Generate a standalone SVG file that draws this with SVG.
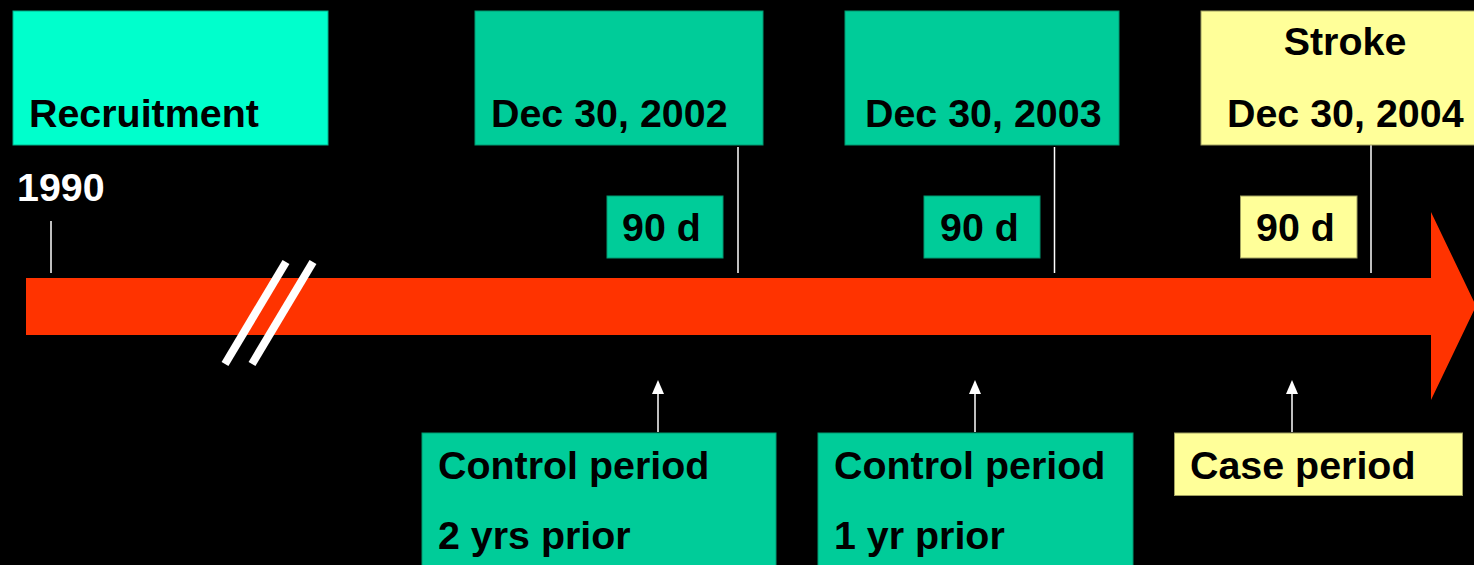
<svg xmlns="http://www.w3.org/2000/svg" width="1474" height="565" viewBox="0 0 1474 565">
<style>
text{font-family:"Liberation Sans",Arial,sans-serif;font-weight:bold;font-size:39.4px;fill:#000}
.w{fill:#fff}
.cyan{fill:#00FFCC;stroke:#00B08A;stroke-width:1}
.green{fill:#00CC99;stroke:#009970;stroke-width:1}
.yellow{fill:#FFFF99;stroke:#A0A060;stroke-width:1}
.tick{stroke:#fff;stroke-width:1.5;fill:none}
</style>
<defs>
<marker id="ah" markerWidth="14" markerHeight="12" refX="1" refY="6" orient="auto" markerUnits="userSpaceOnUse" viewBox="0 0 14 12">
<path d="M0,0 L14,6 L0,12 Z" fill="#fff"/>
</marker>
</defs>
<rect width="1474" height="565" fill="#000"/>

<g id="timeline">
<path d="M26,278 H1431 V212 L1476,306 L1431,400 V335 H26 Z" fill="#FF3300"/>
<line x1="286" y1="262" x2="225" y2="364" stroke="#fff" stroke-width="8"/>
<line x1="313" y1="262" x2="252" y2="364" stroke="#fff" stroke-width="8"/>
</g>

<g id="connectors">
<line class="tick" x1="51" y1="221" x2="51" y2="273"/>
<line class="tick" x1="738" y1="147" x2="738" y2="273"/>
<line class="tick" x1="1054.5" y1="147" x2="1054.5" y2="273"/>
<line class="tick" x1="1371" y1="145" x2="1371" y2="273"/>
<line class="tick" x1="658" y1="432" x2="658" y2="393" marker-end="url(#ah)"/>
<line class="tick" x1="975" y1="432" x2="975" y2="393" marker-end="url(#ah)"/>
<line class="tick" x1="1292" y1="432" x2="1292" y2="393" marker-end="url(#ah)"/>
</g>

<g id="recruitment">
<rect class="cyan" x="13" y="11" width="315" height="134"/>
<text x="29" y="127">Recruitment</text>
</g>
<g id="year1990">
<text class="w" x="17" y="201">1990</text>
</g>

<g id="dec2002">
<rect class="green" x="475" y="11" width="288" height="134"/>
<text x="491" y="127">Dec 30, 2002</text>
</g>
<g id="dec2003">
<rect class="green" x="845" y="11" width="274" height="134"/>
<text x="865" y="127">Dec 30, 2003</text>
</g>
<g id="stroke">
<rect class="yellow" x="1201" y="11" width="280" height="134"/>
<text x="1345" y="55" text-anchor="middle">Stroke</text>
<text x="1227" y="127">Dec 30, 2004</text>
</g>

<g id="d90a">
<rect class="green" x="607" y="196" width="116" height="62"/>
<text x="622" y="241">90 d</text>
</g>
<g id="d90b">
<rect class="green" x="924" y="196" width="116" height="62"/>
<text x="940" y="241">90 d</text>
</g>
<g id="d90c">
<rect class="yellow" x="1240.5" y="196" width="116.5" height="62"/>
<text x="1256" y="241">90 d</text>
</g>

<g id="control2">
<rect class="green" x="422" y="433" width="354" height="140"/>
<text x="438" y="479">Control period</text>
<text x="438" y="549">2 yrs prior</text>
</g>
<g id="control1">
<rect class="green" x="818" y="433" width="315" height="140"/>
<text x="834" y="479">Control period</text>
<text x="834" y="549">1 yr prior</text>
</g>
<g id="case">
<rect class="yellow" x="1174.5" y="433" width="288" height="62.5"/>
<text x="1190" y="479">Case period</text>
</g>
</svg>
